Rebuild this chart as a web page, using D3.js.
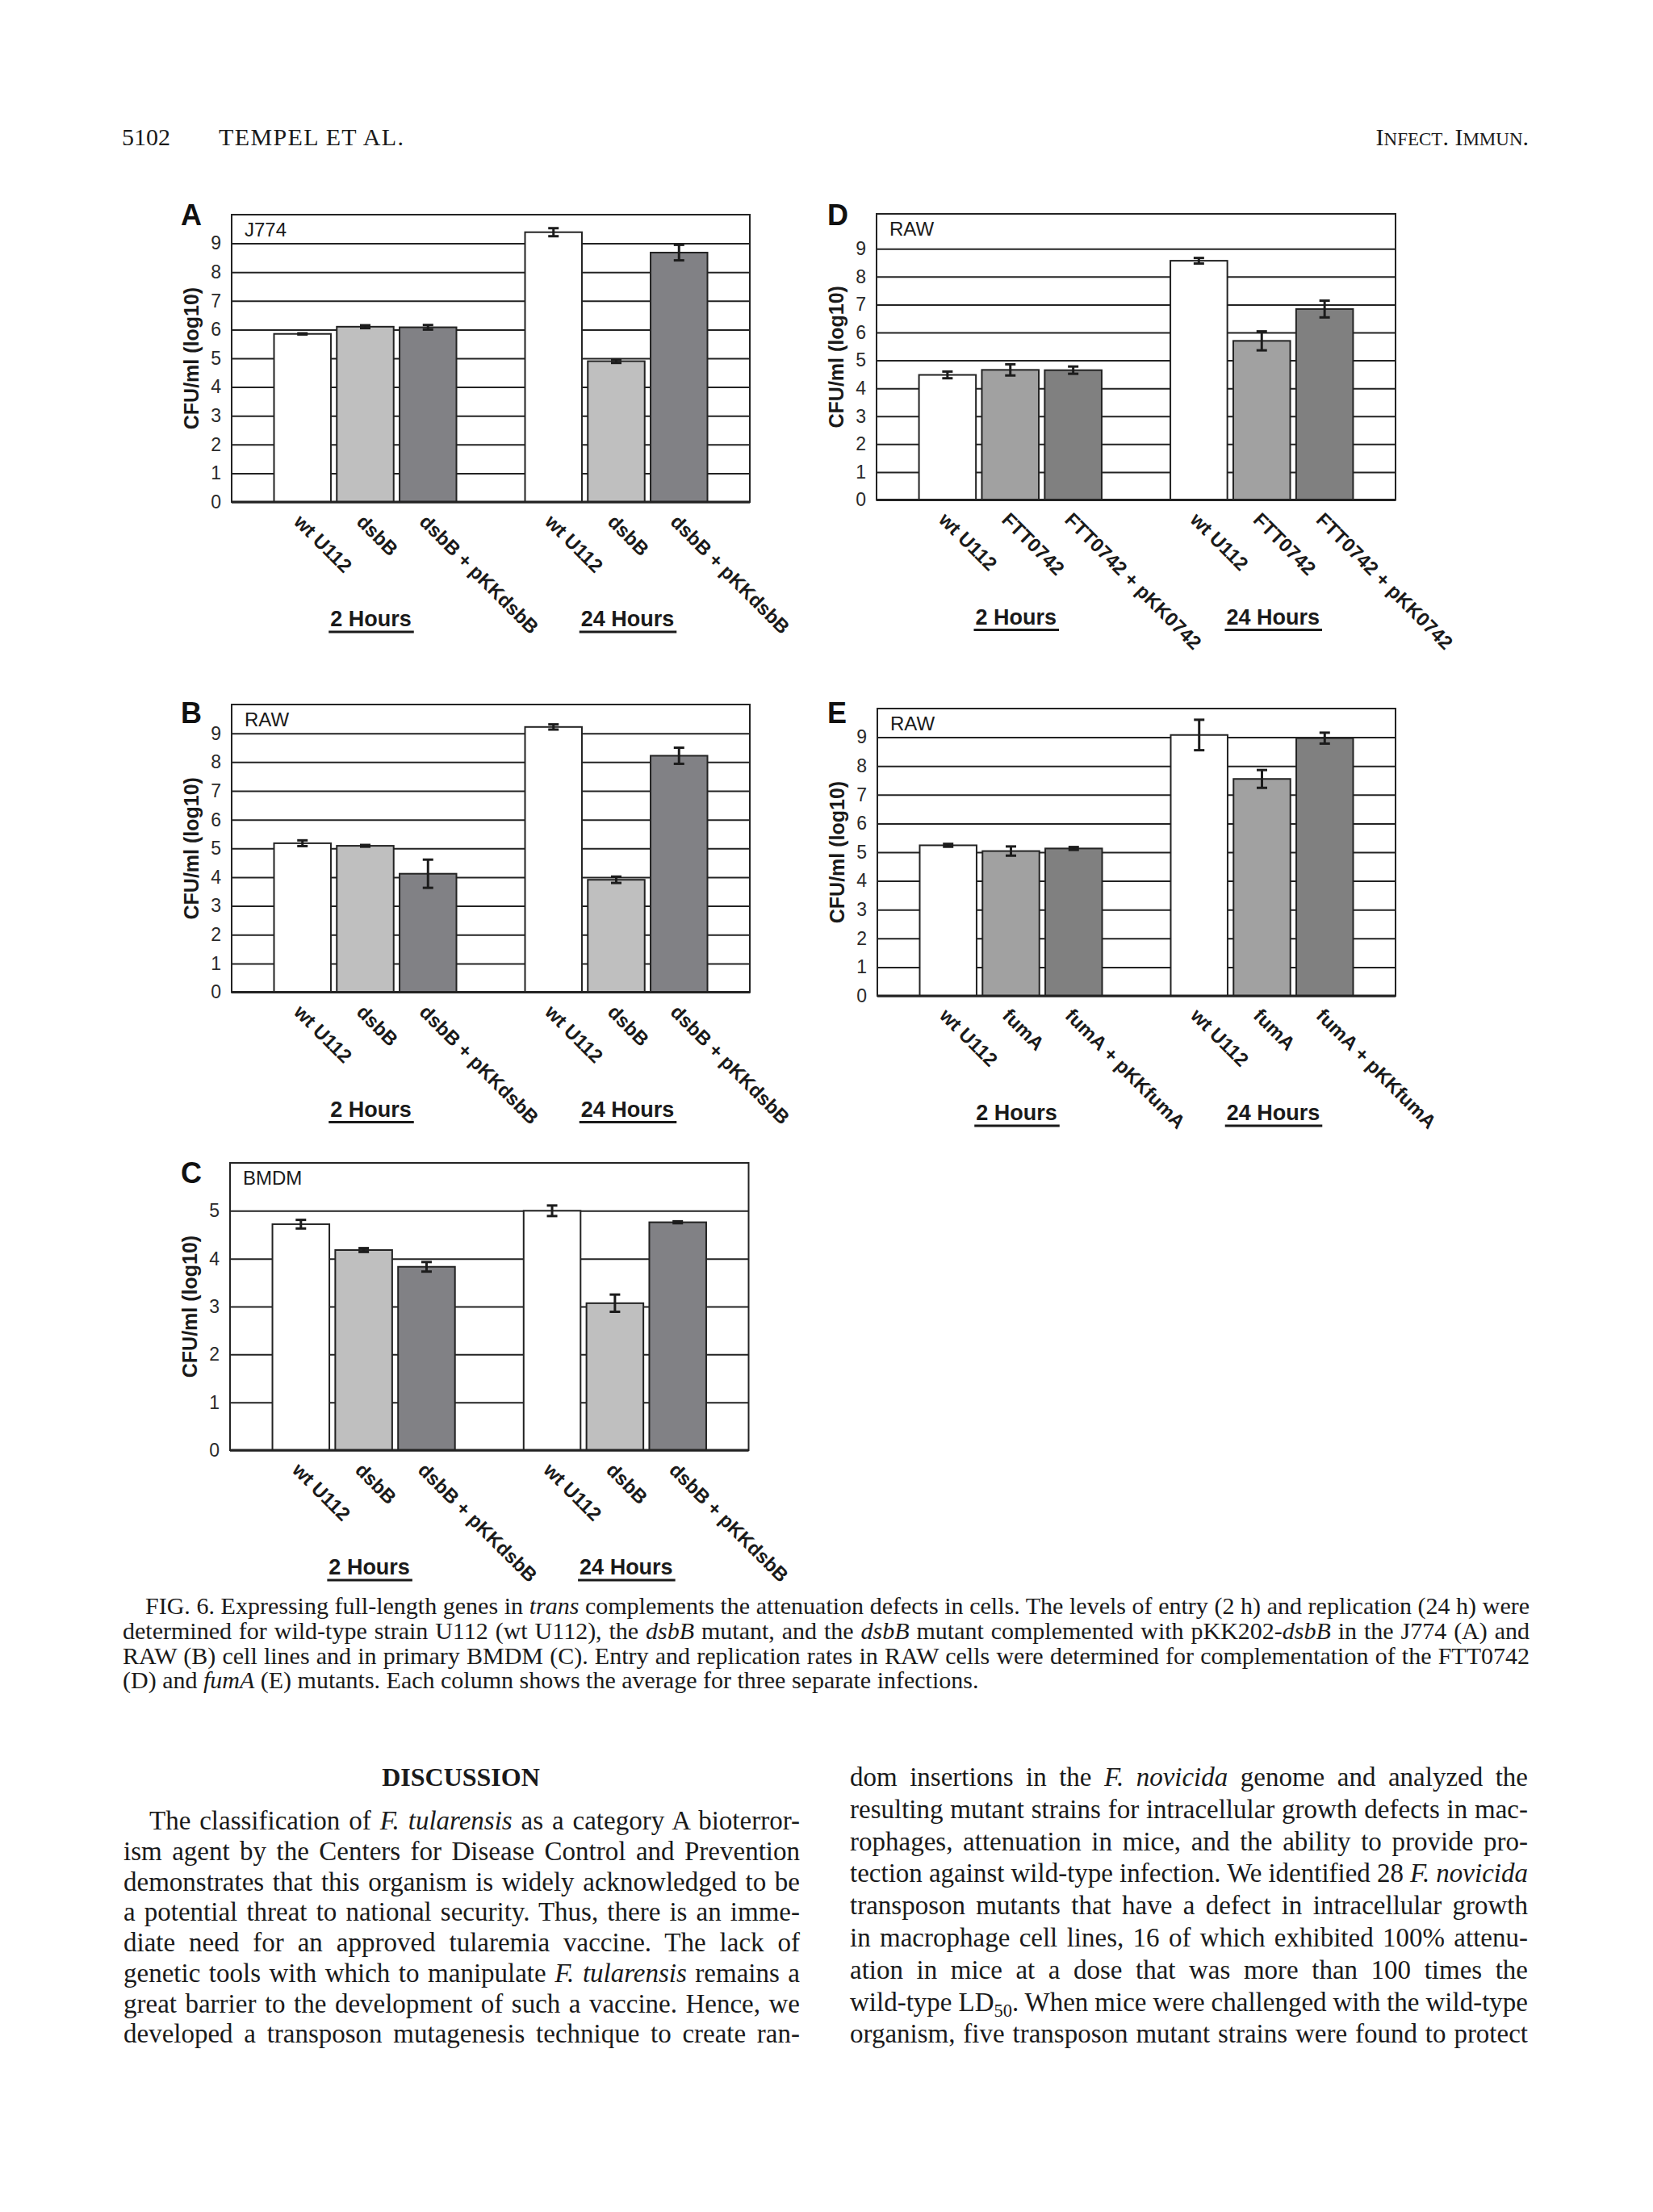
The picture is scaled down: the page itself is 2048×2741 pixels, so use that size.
<!DOCTYPE html>
<html><head><meta charset="utf-8">
<script src="https://cdn.jsdelivr.net/npm/d3@7"></script>
<style>body{margin:0;background:#fff}svg{display:block}</style>
</head><body>
<svg id="page" width="2048" height="2741"></svg>
<script>
// ---------- DATA ----------
const groups = ["2 Hours", "24 Hours"];
const strainsDsbB = ["wt U112", "dsbB", "dsbB + pKKdsbB"];
const strainsFTT = ["wt U112", "FTT0742", "FTT0742 + pKK0742"];
const strainsFum = ["wt U112", "fumA", "fumA + pKKfumA"];
const ticksTen = [0, 1, 2, 3, 4, 5, 6, 7, 8, 9];
const ticksSix = [0, 1, 2, 3, 4, 5];
// values[group][strain]  (log10 CFU/ml)
const valuesA = [[5.85, 6.10, 6.08], [9.39, 4.90, 8.68]];
const errorsA = [[0.02, 0.05, 0.08], [0.14, 0.06, 0.27]];
const valuesB = [[5.18, 5.09, 4.12], [9.22, 3.91, 8.22]];
const errorsB = [[0.10, 0.03, 0.49], [0.09, 0.11, 0.28]];
const valuesC = [[4.72, 4.18, 3.83], [5.00, 3.07, 4.76]];
const errorsC = [[0.09, 0.04, 0.10], [0.11, 0.18, 0.02]];
const valuesD = [[4.48, 4.66, 4.65], [8.57, 5.70, 6.84]];
const errorsD = [[0.12, 0.20, 0.13], [0.10, 0.34, 0.30]];
const valuesE = [[5.24, 5.04, 5.13], [9.08, 7.55, 8.97]];
const errorsE = [[0.05, 0.16, 0.05], [0.53, 0.31, 0.19]];
const yTitle = "CFU/ml (log10)";

// ---------- STYLE / LAYOUT ----------
const SANS = "'Liberation Sans', Arial, Helvetica, sans-serif";
const SERIF = "'Liberation Serif', 'Times New Roman', Times, serif";
const INK = "#232323";
const colorsDsbB = ["#ffffff", "#bfbfbf", "#818185"];
const colorsRaw = ["#ffffff", "#a1a1a1", "#808080"];

const panels = [
  {letter:"A", cell:"J774", strains:strainsDsbB, values:valuesA, errors:errorsA, colors:colorsDsbB, ticks:ticksTen, yMax:10,
   left:287, right:929, top:266, zero:622, lx:224, ly:279},
  {letter:"B", cell:"RAW", strains:strainsDsbB, values:valuesB, errors:errorsB, colors:colorsDsbB, ticks:ticksTen, yMax:10,
   left:287, right:929, top:873, zero:1229.6, lx:224, ly:896},
  {letter:"C", cell:"BMDM", strains:strainsDsbB, values:valuesC, errors:errorsC, colors:colorsDsbB, ticks:ticksSix, yMax:6,
   left:285, right:927.5, top:1441, zero:1797, lx:224, ly:1466},
  {letter:"D", cell:"RAW", strains:strainsFTT, values:valuesD, errors:errorsD, colors:colorsRaw, ticks:ticksTen, yMax:10.25,
   left:1086, right:1729, top:265, zero:619.5, lx:1025, ly:279},
  {letter:"E", cell:"RAW", strains:strainsFum, values:valuesE, errors:errorsE, colors:colorsRaw, ticks:ticksTen, yMax:10,
   left:1087, right:1729, top:878, zero:1234, lx:1025, ly:896}
];

const svg = d3.select("#page");
svg.append("rect").attr("width", 2048).attr("height", 2741).attr("fill", "#fff");

function drawPanel(p) {
  const g = svg.append("g");
  const x0 = d3.scaleBand().domain(groups).range([p.left, p.right]).paddingInner(0.2733).paddingOuter(0.1688);
  const x1 = d3.scaleBand().domain(d3.range(p.strains.length)).range([0, x0.bandwidth()]).paddingInner(0.094).paddingOuter(0);
  const y = d3.scaleLinear().domain([0, p.yMax]).range([p.zero, p.top]);
  const W = p.right - p.left;

  // gridlines + tick labels
  const ax = g.append("g").attr("transform", `translate(${p.left},0)`)
    .call(d3.axisLeft(y).tickValues(p.ticks).tickSize(-W).tickPadding(13).tickFormat(d3.format("d")));
  ax.select(".domain").remove();
  ax.selectAll(".tick line").attr("stroke", INK).attr("stroke-width", 2);
  ax.selectAll(".tick text").attr("font-family", SANS).attr("font-size", 23).attr("fill", "#2a2a2a");

  // bars
  groups.forEach((gr, gi) => {
    const gx = x0(gr);
    g.selectAll(null).data(p.values[gi]).enter().append("rect")
      .attr("x", (d, i) => gx + x1(i)).attr("width", x1.bandwidth())
      .attr("y", d => y(d)).attr("height", d => y(0) - y(d))
      .attr("fill", (d, i) => p.colors[i]).attr("stroke", INK).attr("stroke-width", 2);
    // error bars
    p.values[gi].forEach((v, i) => {
      const e = p.errors[gi][i];
      const cx = gx + x1(i) + x1.bandwidth() / 2;
      const eg = g.append("g").attr("stroke", "#1c1c1c").attr("stroke-width", 3);
      eg.append("line").attr("x1", cx).attr("x2", cx).attr("y1", y(v - e)).attr("y2", y(v + e));
      [v - e, v + e].forEach(t => eg.append("line").attr("x1", cx - 6.5).attr("x2", cx + 6.5).attr("y1", y(t)).attr("y2", y(t)));
    });
    // rotated category labels
    p.strains.forEach((s, i) => {
      const cx = gx + x1(i) + x1.bandwidth() / 2;
      g.append("text").attr("transform", `translate(${cx - 12},${p.zero + 26}) rotate(45)`)
        .attr("font-family", SANS).attr("font-weight", "bold").attr("font-size", 24).attr("fill", "#1a1a1a")
        .text(s);
    });
    // group labels (underlined)
    const gc = gx + x0.bandwidth() / 2 + (gi === 0 ? 7 : 14);
    const t = g.append("text").attr("x", gc).attr("y", p.zero + 154).attr("text-anchor", "middle")
      .attr("font-family", SANS).attr("font-weight", "bold").attr("font-size", 27).attr("fill", "#1a1a1a").text(gr);
    const tw = t.node().getComputedTextLength();
    g.append("line").attr("x1", gc - tw / 2 - 2).attr("x2", gc + tw / 2 + 3)
      .attr("y1", p.zero + 161).attr("y2", p.zero + 161).attr("stroke", "#1a1a1a").attr("stroke-width", 3);
  });

  // frame and base axis
  g.append("rect").attr("x", p.left).attr("y", p.top).attr("width", W).attr("height", p.zero - p.top)
    .attr("fill", "none").attr("stroke", INK).attr("stroke-width", 2);
  g.append("line").attr("x1", p.left).attr("x2", p.right).attr("y1", p.zero).attr("y2", p.zero)
    .attr("stroke", INK).attr("stroke-width", 3);

  // cell line label
  g.append("text").attr("x", p.left + 16).attr("y", p.top + 27).attr("font-family", SANS).attr("font-size", 24)
    .attr("fill", "#1a1a1a").text(p.cell);
  // y title
  g.append("text").attr("transform", `translate(${p.left - 50},${(p.top + p.zero) / 2}) rotate(-90)`)
    .attr("text-anchor", "middle").attr("dominant-baseline", "central")
    .attr("font-family", SANS).attr("font-weight", "bold").attr("font-size", 25).attr("fill", "#1a1a1a").text(yTitle);
  // panel letter
  g.append("text").attr("x", p.lx).attr("y", p.ly).attr("font-family", SANS).attr("font-weight", "bold")
    .attr("font-size", 36).attr("fill", "#111").text(p.letter);
}
panels.forEach(drawPanel);

// ---------- PAGE TEXT ----------
function richLine(x, y, str, fs, targetW) {
  const t = svg.append("text").attr("x", x).attr("y", y).attr("font-family", SERIF).attr("font-size", fs)
    .attr("fill", "#1a1a1a");
  const parts = str.split(/(\*[^*]+\*|~[^~]+~)/).filter(s => s.length);
  let shifted = 0;
  parts.forEach(pt => {
    let ts;
    if (pt[0] === "*") ts = t.append("tspan").attr("font-style", "italic").text(pt.slice(1, -1));
    else if (pt[0] === "~") { ts = t.append("tspan").attr("font-size", fs * 0.68).attr("dy", fs * 0.22).text(pt.slice(1, -1)); shifted = fs * 0.22; return; }
    else ts = t.append("tspan").text(pt);
    if (shifted) { ts.attr("dy", -shifted); shifted = 0; }
  });
  if (targetW) {
    const nat = t.node().getComputedTextLength();
    const n = (str.match(/ /g) || []).length;
    if (n) t.attr("word-spacing", (targetW - nat) / n);
  }
  return t;
}

// running head
svg.append("text").attr("x", 151).attr("y", 180).attr("font-family", SERIF).attr("font-size", 30).attr("fill", "#1a1a1a").text("5102");
svg.append("text").attr("x", 271).attr("y", 180).attr("font-family", SERIF).attr("font-size", 30).attr("fill", "#1a1a1a")
  .attr("textLength", 229).attr("lengthAdjust", "spacing").text("TEMPEL ET AL.");
(function () {
  const t = svg.append("text").attr("x", 1894).attr("y", 180).attr("text-anchor", "end").attr("font-family", SERIF).attr("fill", "#1a1a1a");
  [["I", 30], ["NFECT", 23], [". ", 30], ["I", 30], ["MMUN", 23], [".", 30]].forEach(([s, f]) => t.append("tspan").attr("font-size", f).text(s));
})();

// caption
const capLines = [
  "FIG. 6. Expressing full-length genes in *trans* complements the attenuation defects in cells. The levels of entry (2 h) and replication (24 h) were",
  "determined for wild-type strain U112 (wt U112), the *dsbB* mutant, and the *dsbB* mutant complemented with pKK202-*dsbB* in the J774 (A) and",
  "RAW (B) cell lines and in primary BMDM (C). Entry and replication rates in RAW cells were determined for complementation of the FTT0742",
  "(D) and *fumA* (E) mutants. Each column shows the average for three separate infections."
];
capLines.forEach((s, i) => {
  const x = i === 0 ? 180 : 152;
  richLine(x, 2000 + i * 30.8, s, 30, i < 3 ? 1895 - x : null);
});

// Discussion heading
svg.append("text").attr("x", 571).attr("y", 2213).attr("text-anchor", "middle").attr("font-family", SERIF)
  .attr("font-weight", "bold").attr("font-size", 32).attr("fill", "#1a1a1a").text("DISCUSSION");

const leftCol = [
  "The classification of *F. tularensis* as a category A bioterror-",
  "ism agent by the Centers for Disease Control and Prevention",
  "demonstrates that this organism is widely acknowledged to be",
  "a potential threat to national security. Thus, there is an imme-",
  "diate need for an approved tularemia vaccine. The lack of",
  "genetic tools with which to manipulate *F. tularensis* remains a",
  "great barrier to the development of such a vaccine. Hence, we",
  "developed a transposon mutagenesis technique to create ran-"
];
const rightCol = [
  "dom insertions in the *F. novicida* genome and analyzed the",
  "resulting mutant strains for intracellular growth defects in mac-",
  "rophages, attenuation in mice, and the ability to provide pro-",
  "tection against wild-type infection. We identified 28 *F. novicida*",
  "transposon mutants that have a defect in intracellular growth",
  "in macrophage cell lines, 16 of which exhibited 100% attenu-",
  "ation in mice at a dose that was more than 100 times the",
  "wild-type LD~50~. When mice were challenged with the wild-type",
  "organism, five transposon mutant strains were found to protect"
];
leftCol.forEach((s, i) => {
  const x = i === 0 ? 185 : 153;
  richLine(x, 2267.3 + i * 37.7, s, 33, 991 - x);
});
rightCol.forEach((s, i) => {
  richLine(1053, 2213 + i * 39.8, s, 33, 1893 - 1053);
});
</script>
</body></html>
